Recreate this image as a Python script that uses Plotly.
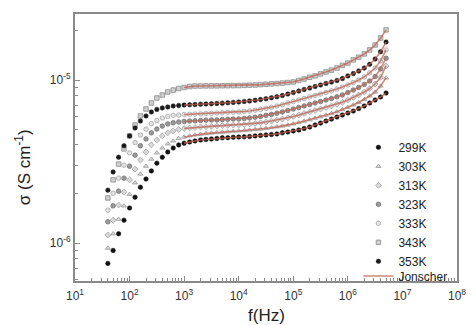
import plotly.graph_objects as go

freq_hz = [40, 50, 63, 79, 100, 126, 158, 200, 251, 316, 398, 501, 631, 794,
           1.0e3, 1.26e3, 1.58e3, 2.0e3, 2.51e3, 3.16e3, 3.98e3, 5.01e3, 6.31e3, 7.94e3,
           1.0e4, 1.26e4, 1.58e4, 2.0e4, 2.51e4, 3.16e4, 3.98e4, 5.01e4, 6.31e4, 7.94e4,
           1.0e5, 1.26e5, 1.58e5, 2.0e5, 2.51e5, 3.16e5, 3.98e5, 5.01e5, 6.31e5, 7.94e5,
           1.0e6, 1.26e6, 1.58e6, 2.0e6, 2.51e6, 3.16e6, 3.98e6, 5.01e6]

# conductivity values in units of 1e-6 S/cm
sigma_299K = [0.75, 0.90, 1.14, 1.38, 1.64, 1.91, 2.2, 2.47, 2.77, 3.09, 3.36, 3.62, 3.83, 4.0,
              4.1, 4.17, 4.23, 4.29, 4.32, 4.35, 4.38, 4.42, 4.42, 4.45,
              4.47, 4.48, 4.5, 4.54, 4.57, 4.6, 4.63, 4.67, 4.74, 4.8,
              4.87, 4.94, 5.04, 5.15, 5.3, 5.44, 5.6, 5.76, 5.93, 6.1,
              6.28, 6.45, 6.68, 6.93, 7.23, 7.54, 7.87, 8.32]
sigma_303K = [0.93, 1.14, 1.4, 1.69, 1.99, 2.34, 2.65, 2.96, 3.27, 3.57, 3.83, 4.06, 4.23, 4.38,
              4.47, 4.54, 4.6, 4.65, 4.69, 4.73, 4.76, 4.79, 4.82, 4.85,
              4.87, 4.9, 4.93, 4.97, 5.0, 5.05, 5.1, 5.16, 5.22, 5.29,
              5.38, 5.48, 5.59, 5.7, 5.83, 5.95, 6.09, 6.23, 6.39, 6.58,
              6.8, 7.03, 7.28, 7.6, 7.98, 8.44, 9.19, 10.3]
sigma_313K = [1.12, 1.38, 1.71, 2.05, 2.44, 2.84, 3.23, 3.62, 4.0, 4.29, 4.54, 4.74, 4.87, 4.97,
              5.04, 5.08, 5.11, 5.15, 5.17, 5.2, 5.23, 5.25, 5.28, 5.29,
              5.3, 5.33, 5.37, 5.41, 5.46, 5.52, 5.6, 5.67, 5.76, 5.85,
              5.98, 6.1, 6.23, 6.37, 6.5, 6.64, 6.78, 6.93, 7.1, 7.3,
              7.54, 7.82, 8.09, 8.44, 8.87, 9.45, 10.4, 12.2]
sigma_323K = [1.35, 1.69, 2.08, 2.5, 2.96, 3.46, 3.95, 4.35, 4.74, 5.0, 5.22, 5.38, 5.47, 5.53,
              5.57, 5.6, 5.62, 5.64, 5.67, 5.68, 5.69, 5.72, 5.74, 5.76,
              5.77, 5.81, 5.85, 5.91, 5.98, 6.07, 6.15, 6.26, 6.37, 6.5,
              6.64, 6.78, 6.93, 7.08, 7.23, 7.38, 7.54, 7.7, 7.89, 8.1,
              8.38, 8.68, 9.0, 9.4, 9.86, 10.5, 11.7, 13.6]
sigma_333K = [1.59, 2.02, 2.5, 3.0, 3.57, 4.13, 4.6, 5.0, 5.4, 5.65, 5.85, 5.98, 6.07, 6.1,
              6.14, 6.16, 6.19, 6.2, 6.23, 6.25, 6.28, 6.3, 6.33, 6.35,
              6.37, 6.42, 6.46, 6.53, 6.6, 6.7, 6.8, 6.93, 7.05, 7.23,
              7.38, 7.54, 7.7, 7.87, 8.03, 8.2, 8.38, 8.58, 8.8, 9.06,
              9.32, 9.65, 10.0, 10.45, 11.05, 11.85, 13.1, 15.3]
sigma_343K = [1.89, 2.44, 3.05, 3.78, 4.54, 5.3, 6.02, 6.64, 7.23, 7.76, 8.09, 8.44, 8.68, 8.87,
              9.0, 9.12, 9.19, 9.19, 9.2, 9.2, 9.21, 9.22, 9.23, 9.24,
              9.25, 9.27, 9.3, 9.32, 9.37, 9.42, 9.47, 9.52, 9.58, 9.65,
              9.72, 9.93, 10.15, 10.4, 10.6, 10.9, 11.2, 11.5, 11.85, 12.3,
              12.7, 13.3, 13.8, 14.45, 15.3, 16.4, 18.1, 20.3]
sigma_353K = [2.11, 2.73, 3.36, 3.95, 4.54, 5.08, 5.6, 6.02, 6.37, 6.6, 6.74, 6.83, 6.93, 6.98,
              7.03, 7.05, 7.08, 7.11, 7.13, 7.15, 7.18, 7.21, 7.25, 7.29,
              7.33, 7.39, 7.44, 7.51, 7.59, 7.68, 7.78, 7.89, 8.03, 8.2,
              8.38, 8.56, 8.75, 8.93, 9.12, 9.32, 9.52, 9.72, 9.93, 10.2,
              10.6, 10.95, 11.35, 11.85, 12.5, 13.45, 14.9, 17.1]

series_names = ["299K", "303K", "313K", "323K", "333K", "343K", "353K"]
series_values = [sigma_299K, sigma_303K, sigma_313K, sigma_323K, sigma_333K, sigma_343K, sigma_353K]
fit_start_hz = 1.0e3

x_tick_vals = [1e1, 1e2, 1e3, 1e4, 1e5, 1e6, 1e7, 1e8]
x_tick_text = ["10<sup>1</sup>", "10<sup>2</sup>", "10<sup>3</sup>", "10<sup>4</sup>",
               "10<sup>5</sup>", "10<sup>6</sup>", "10<sup>7</sup>", "10<sup>8</sup>"]
y_tick_vals = [1e-6, 1e-5]
y_tick_text = ["10<sup>-6</sup>", "10<sup>-5</sup>"]

styles = {
    "299K": dict(symbol="circle", color="#111111", line=dict(color="#111111", width=0.5)),
    "303K": dict(symbol="triangle-up", color="#d6d6d6", line=dict(color="#9a9a9a", width=0.8)),
    "313K": dict(symbol="diamond", color="#d9d9d9", line=dict(color="#a0a0a0", width=0.8)),
    "323K": dict(symbol="circle", color="#9a9a9a", line=dict(color="#707070", width=0.8)),
    "333K": dict(symbol="circle", color="#e2e2e2", line=dict(color="#a8a8a8", width=0.8)),
    "343K": dict(symbol="square", color="#cfcfcf", line=dict(color="#8c8c8c", width=0.8)),
    "353K": dict(symbol="circle", color="#1a1a1a", line=dict(color="#1a1a1a", width=0.5)),
}

FONT = "Liberation Sans, Arial"
fig = go.Figure()
for name, vals in zip(series_names, series_values):
    st = styles[name]
    fig.add_trace(go.Scatter(
        x=freq_hz, y=[v * 1e-6 for v in vals], mode="markers", name=name,
        marker=dict(symbol=st["symbol"], size=4.5, color=st["color"], line=st["line"]),
        legend="legend",
    ))

for i, (name, vals) in enumerate(zip(series_names, series_values)):
    xs = [f for f in freq_hz if f >= fit_start_hz]
    ys = [v * 1e-6 for f, v in zip(freq_hz, vals) if f >= fit_start_hz]
    fig.add_trace(go.Scatter(
        x=xs, y=ys, mode="lines", name="Jonscher", legendgroup="fit", legend="legend2",
        showlegend=(i == 0), line=dict(color="rgba(192,96,80,0.75)", width=1.6),
    ))

axis_common = dict(
    type="log", showline=True, linecolor="#8a8a8a", linewidth=2, mirror=True,
    ticks="inside", ticklen=5, tickcolor="#8a8a8a", tickwidth=1,
    showgrid=False, zeroline=False,
    tickfont=dict(family=FONT, size=12, color="#333333"),
    minor=dict(ticks="inside", ticklen=3, tickcolor="#8a8a8a", dtick="D1", showgrid=False),
)

legend_common = dict(xanchor="left", yanchor="top", bgcolor="rgba(0,0,0,0)", borderwidth=0,
                     font=dict(family=FONT, size=12, color="#222222"), tracegroupgap=0)

fig.update_layout(
    width=476, height=325,
    margin=dict(l=75, r=10, t=14, b=44),
    plot_bgcolor="white", paper_bgcolor="white",
    showlegend=True,
    legend=dict(legend_common, x=0.742, y=0.555),
    legend2=dict(legend_common, x=0.742, y=0.073),
    xaxis=dict(axis_common, range=[1, 8], tickvals=x_tick_vals, ticktext=x_tick_text,
               ticklabelstandoff=3),
    yaxis=dict(axis_common, range=[-6.233, -4.595], tickvals=y_tick_vals, ticktext=y_tick_text),
    annotations=[
        dict(text="f(Hz)", x=0.5, y=-0.131, xref="paper", yref="paper",
             showarrow=False, xanchor="center", yanchor="middle",
             font=dict(family=FONT, size=17, color="#222222")),
        dict(text="σ (S cm<sup>-1</sup>)", x=-0.1355, y=0.427, xref="paper", yref="paper",
             showarrow=False, xanchor="center", yanchor="middle", textangle=-90,
             font=dict(family=FONT, size=17, color="#222222")),
    ],
)

fig.write_html("out.html")
